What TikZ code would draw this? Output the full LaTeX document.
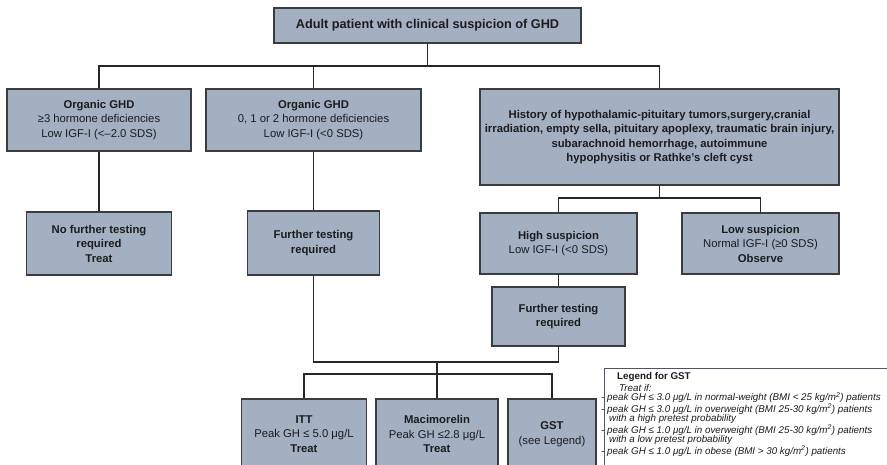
\documentclass[tikz,border=0pt]{standalone}
\usepackage{fontspec}
\setmainfont{Liberation Sans}
\definecolor{boxfill}{RGB}{163,176,193}
\definecolor{boxline}{RGB}{58,60,64}
\definecolor{wire}{RGB}{38,38,38}
\definecolor{ink}{RGB}{28,28,30}
\definecolor{legline}{RGB}{78,84,98}
\tikzset{
  flowbox/.style={draw=boxline, fill=boxfill, line width=1.1pt, inner sep=0pt,
    align=center, text=ink, font=\fontsize{11.3}{14.5}\selectfont},
  wireline/.style={draw=wire, line width=1.3pt},
}
\newcommand{\sqm}{m$^{\mathit 2}$}
\begin{document}
\begin{tikzpicture}[x=1pt, y=-1pt]
\clip (0,0) rectangle (887,465);
\fill[white] (0,0) rectangle (887,465);

% first level
\node[flowbox, minimum width=307pt, minimum height=35pt, font=\fontsize{12.7}{15}\selectfont\bfseries] (top) at (427.5,25.5)
  {Adult patient with clinical suspicion of GHD};

\node[flowbox, minimum width=184pt, minimum height=62pt] (org1) at (99,120)
  {\textbf{Organic GHD}\\≥3 hormone deficiencies\\Low IGF-I (<–2.0 SDS)};
\node[flowbox, minimum width=215pt, minimum height=62pt] (org2) at (313.5,120)
  {\textbf{Organic GHD}\\0, 1 or 2 hormone deficiencies\\Low IGF-I (<0 SDS)};
\node[flowbox, minimum width=359pt, minimum height=96pt, font=\fontsize{11.3}{14.5}\selectfont\bfseries] (hist) at (659.5,137)
  {History of hypothalamic-pituitary tumors,surgery,cranial\\
   irradiation, empty sella, pituitary apoplexy, traumatic brain injury,\\
   subarachnoid hemorrhage, autoimmune\\
   hypophysitis or Rathke’s cleft cyst};

% second level
\node[flowbox, minimum width=145pt, minimum height=63pt, font=\fontsize{11.3}{14.5}\selectfont\bfseries] (nofurther) at (99,243.5)
  {No further testing\\required\\Treat};
\node[flowbox, minimum width=132pt, minimum height=64pt, font=\fontsize{11.3}{14.5}\selectfont\bfseries] (further1) at (313.5,243)
  {Further testing\\required};
\node[flowbox, minimum width=157pt, minimum height=61pt] (high) at (558.5,243.5)
  {\textbf{High suspicion}\\Low IGF-I (<0 SDS)};
\node[flowbox, minimum width=157pt, minimum height=61pt] (low) at (760.5,243.5)
  {\textbf{Low suspicion}\\Normal IGF-I (≥0 SDS)\\\textbf{Observe}};
\node[flowbox, minimum width=133pt, minimum height=59pt, font=\fontsize{11.3}{14.5}\selectfont\bfseries] (further2) at (558.5,316.5)
  {Further testing\\required};

% tests
\node[flowbox, minimum width=125pt, minimum height=70pt] (itt) at (304,434)
  {\textbf{ITT}\\Peak GH ≤ 5.0 μg/L\\\textbf{Treat}};
\node[flowbox, minimum width=122pt, minimum height=70pt] (mac) at (437,434)
  {\textbf{Macimorelin}\\Peak GH ≤2.8 μg/L\\\textbf{Treat}};
\node[flowbox, minimum width=88pt, minimum height=70pt] (gst) at (552,434)
  {\textbf{GST}\\(see Legend)};

% legend
\draw[legline, line width=1pt, fill=white] (604,368) rectangle (900,480);
\node[anchor=north west, inner sep=0pt, align=left, text=ink,
      font=\fontsize{9.8}{9.4}\selectfont\itshape] (legend) at (601,372)
  {\lineskiplimit=-20pt\relax
   \hspace*{16pt}{\upshape\bfseries Legend for GST}\\[2.8pt]
   \hspace*{18pt}Treat if:\\
   - peak GH ≤ 3.0 μg/L in normal-weight (BMI < 25 kg/\sqm) patients\\
   - peak GH ≤ 3.0 μg/L in overweight (BMI 25-30 kg/\sqm) patients\\
   \hspace*{8pt}with a high pretest probability\\
   - peak GH ≤ 1.0 μg/L in overweight (BMI 25-30 kg/\sqm) patients\\
   \hspace*{8pt}with a low pretest probability\\
   - peak GH ≤ 1.0 μg/L in obese (BMI > 30 kg/\sqm) patients};

% connectors
\coordinate (bus1) at (427.5,66);
\coordinate (bus2) at (659.5,198);
\coordinate (bus3) at (437,362);
\coordinate (bus4) at (437,374);
\draw[wireline] (top.south) -- (bus1);
\draw[wireline] (org1.north) |- (bus1) -| (hist.north);
\draw[wireline] (org2.north) -- (org2.north |- bus1);
\draw[wireline] (org1.south) -- (nofurther.north);
\draw[wireline] (org2.south) -- (further1.north);
\draw[wireline] (hist.south) -- (bus2);
\draw[wireline] (high.north) |- (bus2) -| (low.north);
\draw[wireline] (high.south) -- (further2.north);
\draw[wireline] (further1.south) |- (bus3) -| (further2.south);
\draw[wireline] (bus3) -- (mac.north);
\draw[wireline] (itt.north) |- (bus4) -| (gst.north);
\end{tikzpicture}
\end{document}
